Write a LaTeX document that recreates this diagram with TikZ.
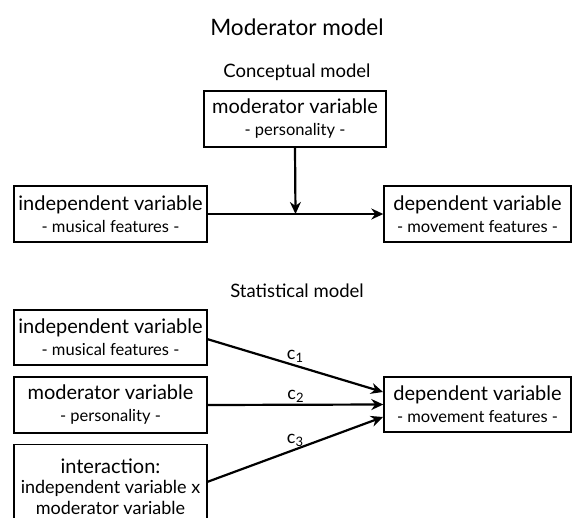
\documentclass[tikz,border=0pt]{standalone}
\usepackage{fontspec}
\setmainfont{Lato}
\usetikzlibrary{arrows.meta,calc}
\newcommand{\subtxt}[1]{{\fontsize{16.5}{22}\selectfont #1}}
\newcommand{\intxt}[1]{{\fontsize{18}{20.5}\selectfont #1}}
\begin{document}
\begin{tikzpicture}[x=1pt,y=-1pt,
  box/.style={draw,line width=1.4pt,inner sep=0pt,align=center,font=\fontsize{20}{22}\selectfont},
  ibox/.style={draw,line width=1.4pt,inner sep=0pt,align=center,font=\fontsize{20}{20.5}\selectfont},
  arr/.style={line width=2.2pt,-{Stealth[length=12pt,width=11pt]}},
  lab/.style={font=\fontsize{18}{20}\selectfont,inner sep=1pt}]
\useasboundingbox (0,0) rectangle (573,517);
\clip (0,0) rectangle (573,517);
\node (t1) at (297,27) {\fontsize{22.6}{26}\selectfont Moderator model};
\node (t2) at (297,72) {\fontsize{18.5}{22}\selectfont Conceptual model};
\node (t3) at (297,291) {\fontsize{18.5}{22}\selectfont Statistical model};
% conceptual
\node[box,minimum width=182pt,minimum height=56pt] (mod) at (295,119)
  {moderator variable\\\subtxt{- personality -}};
\node[box,minimum width=193pt,minimum height=56pt] (ind) at (110.5,214)
  {independent variable\\\subtxt{- musical features -}};
\node[box,minimum width=187pt,minimum height=56pt] (dep) at (477.5,214)
  {dependent variable\\\subtxt{- movement features -}};
\coordinate (mid) at ($(ind.east)!0.5!(dep.west)$);
\draw[arr] (ind.east) -- (dep.west);
\draw[arr] (mod.south) -- (mid);
% statistical
\node[box,minimum width=193pt,minimum height=55pt] (sind) at (110.5,337.5)
  {independent variable\\\subtxt{- musical features -}};
\node[box,minimum width=193pt,minimum height=56pt] (smod) at (110.5,405)
  {moderator variable\\\subtxt{- personality -}};
\node[ibox,minimum width=193pt,minimum height=84pt,anchor=north] (sint) at (110.5,444)
  {interaction:\\\intxt{independent variable x}\\\intxt{moderator variable}};
\node[box,minimum width=187pt,minimum height=55pt] (sdep) at (477.5,404.5)
  {dependent variable\\\subtxt{- movement features -}};
\coordinate (s1) at (207,339);
\coordinate (s3) at (207,482);
\coordinate (e1) at (383,392);
\coordinate (e3) at (383,417);
\draw[arr] (s1) -- (e1) node[lab,pos=0.5,above=1pt] (c1) {c\raisebox{-3pt}{\fontsize{13}{14}\selectfont 1}};
\draw[arr] (smod.east) -- (sdep.west) node[lab,pos=0.5,above=0pt] (c2) {c\raisebox{-3pt}{\fontsize{13}{14}\selectfont 2}};
\draw[arr] (s3) -- (e3) node[lab,pos=0.5,above=1pt] (c3) {c\raisebox{-3pt}{\fontsize{13}{14}\selectfont 3}};
\end{tikzpicture}
\end{document}
